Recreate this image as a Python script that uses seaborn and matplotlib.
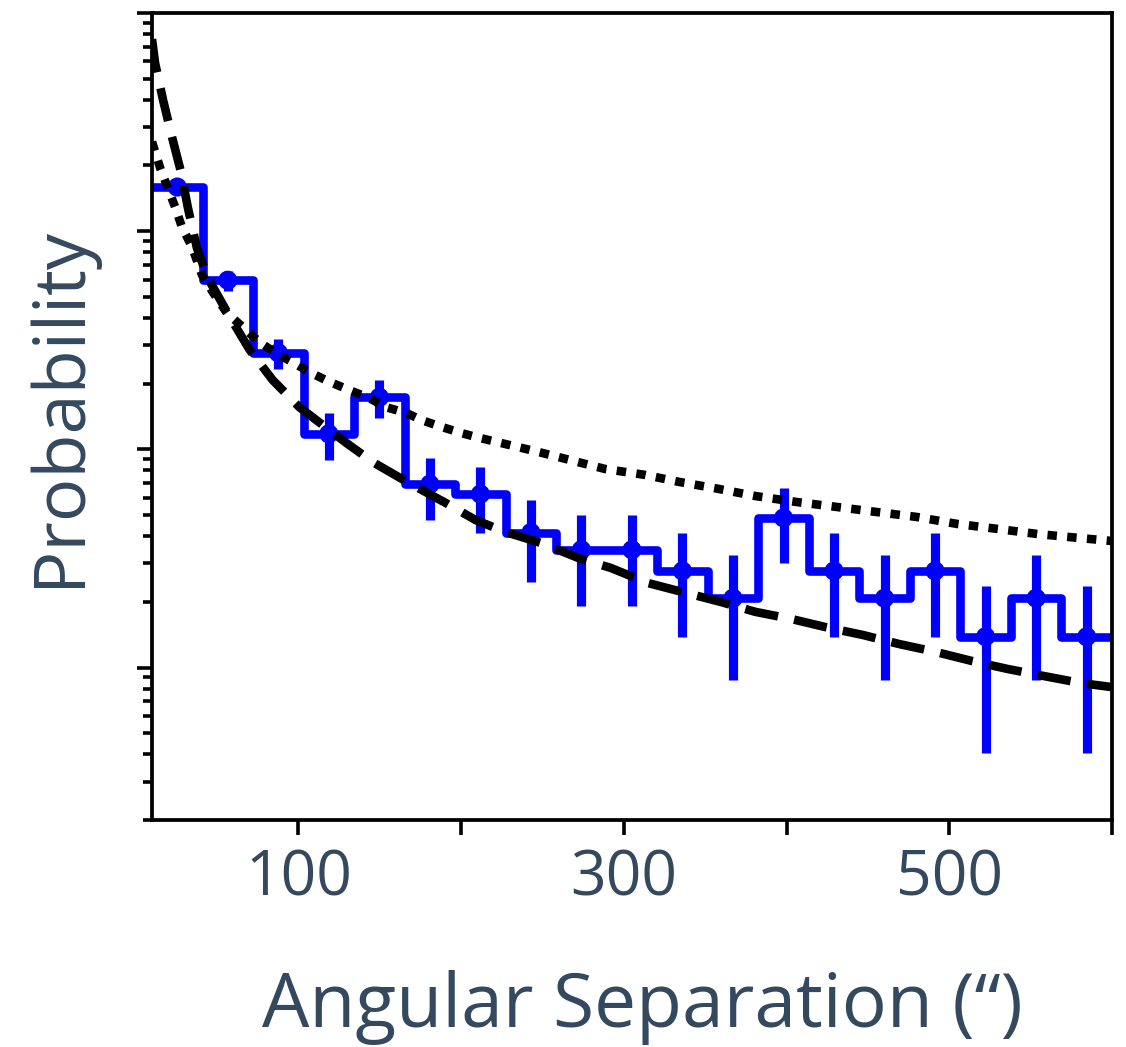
import numpy as np
import matplotlib
matplotlib.use("Agg")
import matplotlib.pyplot as plt
import seaborn as sns
from matplotlib.ticker import LogLocator, NullFormatter

# Histogram of pair separations (arcsec): bin edges and raw counts per bin
bin_edges = [10.0, 41.05, 72.1, 103.15, 134.2, 165.25, 196.3, 227.35, 258.4,
             289.45, 320.5, 351.55, 382.6, 413.65, 444.7, 475.75, 506.8,
             537.85, 568.9, 600.0]
pair_counts = [230, 86, 40, 17, 25, 10, 9, 6, 5, 5, 4, 3, 7, 4, 3, 4, 2, 3, 2]

# Model curve 1 (dashed)
model_a_sep = [10, 11.9, 16.8, 22.3, 27.8, 32.1, 37.6, 44.3, 57.8, 70.0, 84.1,
               100.6, 129.4, 146.5, 167.9, 190.5, 208.9, 227.2, 249.2, 271.9,
               292.0, 314.7, 337.9, 359.3, 380.7, 402.8, 424.2, 446.8, 469.4,
               491.4, 514.1, 535.5, 558.1, 580.7, 600]
model_a_prob = [0.0759, 0.0590, 0.0399, 0.0270, 0.0187, 0.01276, 0.00838,
                0.00611, 0.00405, 0.00286, 0.00208, 0.00156, 0.00107,
                0.000867, 0.000701, 0.000568, 0.000474, 0.000418, 0.000372,
                0.000318, 0.000286, 0.000244, 0.000220, 0.000200, 0.000180,
                0.000167, 0.000153, 0.000141, 0.000128, 0.000118, 0.000107,
                0.0000986, 0.0000914, 0.0000849, 0.0000813]

# Model curve 2 (dotted)
model_b_sep = [10, 15.0, 24.2, 28.4, 34.6, 40.7, 47.4, 56.0, 65.7, 76.1, 86.5,
               96.3, 106.7, 119.0, 131.2, 143.4, 153.8, 166.1, 175.8, 187.5,
               199.7, 208.9, 247.4, 288.4, 312.8, 333.6, 358.1, 380.7, 405.8,
               430.3, 455.4, 479.8, 504.9, 529.4, 554.4, 578.9, 600]
model_b_prob = [0.0257, 0.0195, 0.01291, 0.01045, 0.00847, 0.00631, 0.00525,
                0.00422, 0.00364, 0.00310, 0.00275, 0.00251, 0.00226, 0.00204,
                0.00187, 0.00172, 0.00156, 0.00147, 0.00136, 0.00127, 0.00119,
                0.00114, 0.000973, 0.000813, 0.000764, 0.000710, 0.000659,
                0.000611, 0.000574, 0.000545, 0.000516, 0.000490, 0.000455,
                0.000432, 0.000409, 0.000393, 0.000380]

x_ticks = [100, 200, 300, 400, 500, 600]
x_tick_labels = ["100", "", "300", "", "500", ""]

TEXT_COLOR = "#34495e"

sns.set_style("ticks")
plt.rcParams["font.family"] = ["Open Sans", "DejaVu Sans"]

fig = plt.figure(figsize=(11.26, 10.47), dpi=100)
ax = fig.add_axes([152 / 1126, 1 - 820 / 1047, 960 / 1126, 807 / 1047])

edges = np.array(bin_edges)
counts = np.array(pair_counts, dtype=float)
widths = np.diff(edges)
centers = edges[:-1] + widths / 2
prob = counts / counts.sum() / widths
err = np.sqrt(counts) / counts.sum() / widths

# step histogram with Poisson error bars
sns.lineplot(x=edges, y=np.append(prob, prob[-1]), drawstyle="steps-post",
             color="blue", linewidth=6.2, estimator=None, sort=False,
             solid_joinstyle="round", ax=ax, zorder=2)
ax.errorbar(centers, prob, yerr=err, fmt="none", ecolor="blue",
            elinewidth=6.6, capsize=0, zorder=2)
sns.scatterplot(x=centers, y=prob, color="blue", s=190, edgecolor="none",
                ax=ax, zorder=3)

# model curves
sns.lineplot(x=model_a_sep, y=model_a_prob, color="black", linewidth=6.2,
             linestyle=(0, (3.9, 1.9)), estimator=None, sort=False, ax=ax,
             zorder=4)
sns.lineplot(x=model_b_sep, y=model_b_prob, color="black", linewidth=6.2,
             linestyle=(0, (1.1, 1.2)), estimator=None, sort=False, ax=ax,
             zorder=4)

ax.set_yscale("log")
ax.set_xlim(10, 600)
ax.set_ylim(2e-5, 1e-1)

ax.set_xticks(x_ticks)
ax.set_xticklabels(x_tick_labels)
ax.yaxis.set_major_locator(LogLocator(base=10))
ax.yaxis.set_minor_locator(LogLocator(base=10, subs=np.arange(2, 10)))
ax.yaxis.set_major_formatter(NullFormatter())
ax.yaxis.set_minor_formatter(NullFormatter())

ax.tick_params(axis="x", which="major", direction="out", length=11, width=2.6,
               color="black", labelsize=45, labelcolor=TEXT_COLOR, pad=9)
ax.tick_params(axis="x", which="minor", bottom=False)
ax.tick_params(axis="y", which="major", direction="out", length=11, width=2.6,
               color="black")
ax.tick_params(axis="y", which="minor", direction="out", length=6.5, width=2.6,
               color="black")

for side in ["left", "right", "top", "bottom"]:
    ax.spines[side].set_visible(True)
    ax.spines[side].set_linewidth(2.7)
    ax.spines[side].set_color("black")

ax.set_xlabel("Angular Separation (\u201c)", fontsize=54, color=TEXT_COLOR)
ax.set_ylabel("Probability", fontsize=52, color=TEXT_COLOR)
ax.xaxis.set_label_coords(0.511, -0.186)
ax.yaxis.set_label_coords(-0.058, 0.512)

fig.savefig("out.png", dpi=100)
